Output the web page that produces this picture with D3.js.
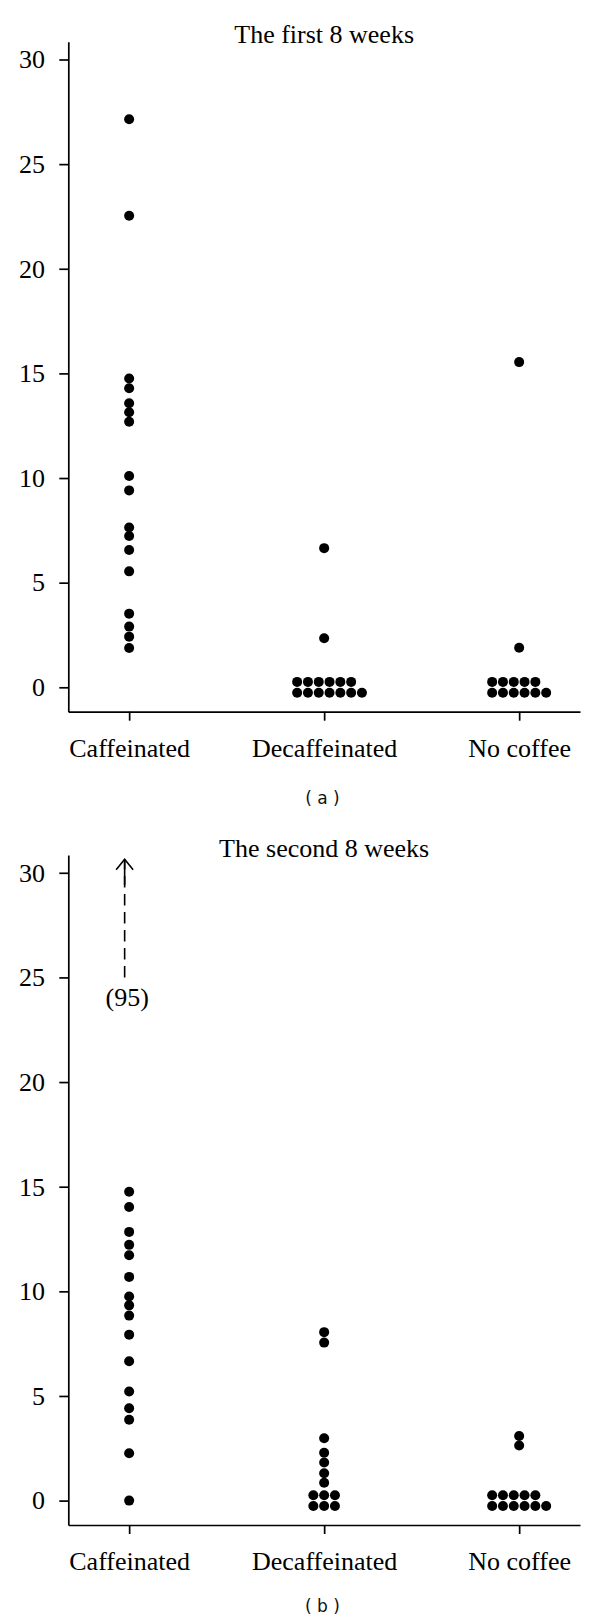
<!DOCTYPE html>
<html><head><meta charset="utf-8">
<script src="https://cdn.jsdelivr.net/npm/d3@7"></script>
<style>body{margin:0;background:#fff} svg{display:block}</style>
</head><body><svg id="chart" width="600" height="1623"></svg>
<script>
// ---- data ----
const categories = ["Caffeinated", "Decaffeinated", "No coffee"];
const yTicks = [0, 5, 10, 15, 20, 25, 30];
const panelTitles = ["The first 8 weeks", "The second 8 weeks"];
const panelLabels = ["( a )", "( b )"];

const caffeinatedA = [27.14, 22.53, 14.76, 14.29, 13.57, 13.14, 12.69, 10.10, 9.41, 7.64, 7.23, 6.56, 5.54, 3.52, 2.90, 2.42, 1.88];
const decaffeinatedA = [6.65, 2.34, 0, 0, 0, 0, 0, 0, 0, 0, 0, 0, 0, 0, 0];
const noCoffeeA = [15.54, 1.89, 0, 0, 0, 0, 0, 0, 0, 0, 0, 0, 0];

const caffeinatedB = [95, 14.76, 14.03, 12.84, 12.22, 11.72, 10.69, 9.75, 9.33, 8.84, 7.93, 6.66, 5.21, 4.41, 3.86, 2.26, 0];
const decaffeinatedB = [8.05, 7.55, 2.98, 2.29, 1.82, 1.31, 0.85, 0, 0, 0, 0, 0, 0];
const noCoffeeB = [3.09, 2.63, 0, 0, 0, 0, 0, 0, 0, 0, 0, 0, 0];

const panels = [
  { title: panelTitles[0], label: panelLabels[0], series: [caffeinatedA, decaffeinatedA, noCoffeeA] },
  { title: panelTitles[1], label: panelLabels[1], series: [caffeinatedB, decaffeinatedB, noCoffeeB] }
];

// ---- layout ----
const svg = d3.select("#chart");
const left = 68.3, right = 580;
const panelTop = [41.7, 855];
const plotH = 670;
const yDomain = [-1.166, 30.85];
const labelBaseline = [804, 1612];
const serif = "'Liberation Serif', 'Times New Roman', serif";
const r = 5, colStep = 10.8, rowOff = 5.4;

const x = d3.scalePoint().domain(categories).range([left, right]).padding(0.312);

panels.forEach((p, pi) => {
  const top = panelTop[pi];
  const y = d3.scaleLinear().domain(yDomain).range([top + plotH, top]);
  const g = svg.append("g");

  // y axis
  const ya = g.append("g").attr("transform", `translate(${left},0)`)
    .call(d3.axisLeft(y).tickValues(yTicks).tickSize(9).tickPadding(14.3).tickSizeOuter(0));
  // x axis
  const xa = g.append("g").attr("transform", `translate(0,${top + plotH})`)
    .call(d3.axisBottom(x).tickSize(9).tickPadding(17.5).tickSizeOuter(0));
  [ya, xa].forEach(a => {
    a.attr("font-family", serif).attr("font-size", 26);
    a.selectAll("path,line").attr("stroke", "#000").attr("stroke-width", 1.7);
    a.selectAll("text").attr("fill", "#000")
      .style("font-family", serif).style("font-size", "26px");
  });

  // title
  g.append("text").attr("x", (left + right) / 2).attr("y", top + 1.6)
    .attr("text-anchor", "middle").style("font-family", serif).style("font-size", "26px")
    .attr("fill", "#000").text(p.title);

  // panel label
  svg.append("text").attr("x", 322.5).attr("y", labelBaseline[pi])
    .attr("text-anchor", "middle").style("font-family", "'DejaVu Sans', Verdana, sans-serif")
    .style("font-size", "17px").attr("fill", "#111").text(p.label);

  // points
  p.series.forEach((vals, ci) => {
    const cx = x(categories[ci]);
    const inRange = vals.filter(v => v <= yDomain[1]);
    const off = vals.filter(v => v > yDomain[1]);
    const groups = d3.group(inRange, v => v);
    const pts = [];
    groups.forEach((arr, v) => {
      const n = arr.length;
      if (n === 1) { pts.push({ v, dx: 0, dy: 0 }); return; }
      const bottom = Math.ceil(n / 2), topN = n - bottom;
      const cols = Math.min(bottom, 6), start = -(cols - 1) / 2;
      for (let i = 0; i < bottom; i++) pts.push({ v, dx: (start + i) * colStep, dy: rowOff });
      for (let i = 0; i < topN; i++) pts.push({ v, dx: (start + i) * colStep, dy: -rowOff });
    });
    g.selectAll(null).data(pts).enter().append("circle")
      .attr("cx", d => cx + d.dx).attr("cy", d => y(d.v) + d.dy)
      .attr("r", r).attr("fill", "#000");

    // off-scale values: dashed arrow with value label
    off.forEach(v => {
      const ax = cx - 4.5;
      const yb = y(25), yt = y(30.65);
      g.append("line").attr("x1", ax).attr("x2", ax).attr("y1", yb).attr("y2", yt)
        .attr("stroke", "#000").attr("stroke-width", 1.6).attr("stroke-dasharray", "11.5,6.5");
      g.append("line").attr("x1", ax).attr("x2", ax).attr("y1", yt).attr("y2", yt + 26)
        .attr("stroke", "#000").attr("stroke-width", 1.6);
      g.append("path").attr("d", `M${ax - 8.5},${yt + 10.5}L${ax},${yt}L${ax + 8.5},${yt + 10.5}`)
        .attr("fill", "none").attr("stroke", "#000").attr("stroke-width", 1.6);
      g.append("text").attr("x", ax + 2.5).attr("y", yb + 28.5).attr("text-anchor", "middle")
        .style("font-family", serif).style("font-size", "26px").attr("fill", "#000").text(`(${v})`);
    });
  });
});
</script>
</body></html>
